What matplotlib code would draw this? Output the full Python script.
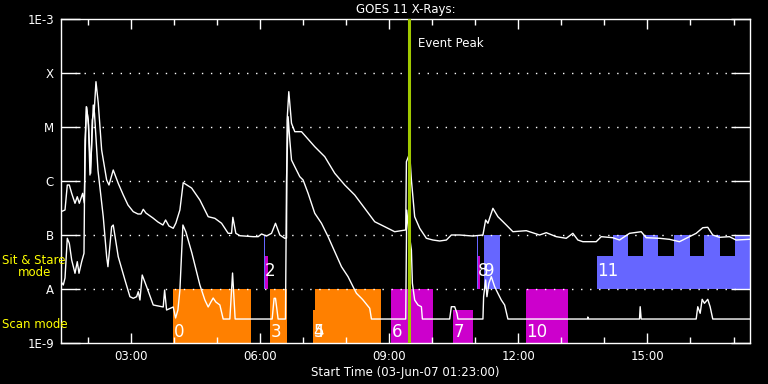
import matplotlib
matplotlib.use("Agg")
import matplotlib.pyplot as plt
from matplotlib.ticker import FixedLocator, FuncFormatter
import numpy as np

# time in hours of 03-Jun-07, flux as log10(W/m^2)
long_t = [1.383, 1.476, 1.529, 1.576, 1.631, 1.708, 1.761, 1.808, 1.886, 1.924,
          1.947, 1.970, 2.016, 2.072, 2.109, 2.156, 2.195, 2.248, 2.327, 2.443,
          2.497, 2.596, 2.712, 2.829, 2.938, 3.061, 3.170, 3.239, 3.293, 3.355,
          3.518, 3.634, 3.750, 3.812, 3.889, 3.989, 4.051, 4.144, 4.221, 4.416,
          4.608, 4.801, 4.956, 5.112, 5.265, 5.344, 5.374, 5.443, 5.536, 5.845,
          5.961, 6.040, 6.156, 6.272, 6.364, 6.464, 6.580, 6.620, 6.634, 6.673,
          6.736, 6.812, 6.968, 7.276, 7.508, 7.740, 7.972, 8.204, 8.436, 8.668,
          8.900, 9.132, 9.388, 9.404, 9.480, 9.520, 9.596, 9.713, 9.868, 10.021,
          10.177, 10.332, 10.448, 10.641, 10.949, 11.181, 11.244, 11.297, 11.413, 11.529,
          11.724, 11.877, 12.188, 12.497, 12.652, 12.884, 13.116, 13.269, 13.386, 13.502,
          13.812, 13.928, 14.197, 14.353, 14.585, 14.857, 14.972, 15.281, 15.513, 15.745,
          15.977, 16.133, 16.286, 16.402, 16.518, 16.673, 16.905, 17.060, 17.369]
long_log = [-6.568, -6.537, -6.074, -6.074, -6.228, -6.413, -6.291, -6.413, -6.228, -6.407,
            -5.426, -4.624, -4.870, -5.857, -4.870, -4.685, -4.161, -4.556, -5.426, -5.981,
            -6.074, -5.796, -6.043, -6.259, -6.444, -6.568, -6.611, -6.611, -6.524, -6.593,
            -6.685, -6.759, -6.815, -6.722, -6.833, -6.876, -6.778, -6.537, -6.031, -6.130,
            -6.352, -6.661, -6.691, -6.783, -6.969, -6.969, -6.672, -6.969, -7.013, -7.031,
            -7.031, -6.981, -7.019, -6.969, -6.783, -7.000, -7.061, -7.056, -4.870, -4.346,
            -4.931, -5.087, -5.087, -5.365, -5.550, -5.857, -6.074, -6.259, -6.506, -6.754,
            -6.846, -6.939, -6.907, -5.643, -5.487, -5.981, -6.661, -6.876, -7.061, -7.093,
            -7.111, -7.093, -7.000, -7.000, -7.019, -7.000, -6.722, -6.783, -6.506, -6.661,
            -6.815, -6.939, -6.920, -7.000, -6.957, -7.031, -7.061, -6.969, -7.093, -7.124,
            -7.124, -7.031, -7.050, -7.093, -6.969, -6.939, -7.050, -7.061, -7.080, -7.124,
            -7.031, -6.969, -6.865, -6.857, -7.000, -7.043, -7.031, -7.093, -7.080]

short_t = [1.383, 1.436, 1.476, 1.529, 1.576, 1.631, 1.708, 1.761, 1.801, 1.863,
           1.917, 1.940, 1.979, 2.021, 2.056, 2.091, 2.132, 2.160, 2.241, 2.364,
           2.443, 2.473, 2.559, 2.596, 2.712, 2.868, 2.984, 3.061, 3.139, 3.177,
           3.216, 3.269, 3.371, 3.525, 3.757, 3.789, 3.835, 3.989, 4.044, 4.098,
           4.144, 4.214, 4.283, 4.422, 4.608, 4.724, 4.801, 4.863, 4.917, 4.979,
           5.072, 5.149, 5.304, 5.367, 5.427, 6.286, 6.332, 6.364, 6.425, 6.596,
           6.620, 6.657, 6.696, 6.736, 6.812, 6.928, 7.005, 7.121, 7.276, 7.432,
           7.585, 7.740, 7.896, 8.049, 8.165, 8.244, 8.360, 8.397, 8.552, 8.592,
           9.388, 9.411, 9.457, 9.520, 9.543, 9.596, 9.673, 9.752, 9.775, 10.409,
           10.448, 10.525, 10.578, 10.601, 11.181, 11.197, 11.244, 11.274, 11.320, 11.376,
           11.453, 11.529, 11.608, 11.685, 11.761, 13.610, 13.617, 13.634, 14.817, 14.833,
           14.856, 16.133, 16.170, 16.226, 16.272, 16.325, 16.402, 16.457, 16.518, 17.369]
short_log = [-7.865, -7.926, -7.796, -7.061, -7.154, -7.463, -7.709, -7.494, -7.709, -7.494,
             -7.339, -5.241, -4.630, -4.963, -5.889, -5.426, -4.593, -4.741, -5.796, -6.661,
             -7.402, -7.587, -6.846, -6.815, -7.402, -7.833, -8.143, -8.172, -8.143, -8.050,
             -8.204, -7.741, -7.957, -8.296, -8.333, -8.019, -8.389, -8.333, -8.537, -8.389,
             -8.019, -6.815, -6.944, -7.333, -7.926, -8.204, -8.333, -8.241, -8.167, -8.241,
             -8.296, -8.556, -8.556, -7.704, -8.556, -8.556, -8.172, -8.172, -8.556, -8.556,
             -5.981, -4.809, -5.241, -5.611, -5.735, -5.920, -5.981, -6.228, -6.598, -6.783,
             -7.031, -7.309, -7.587, -7.772, -7.957, -8.080, -8.172, -8.204, -8.357, -8.556,
             -8.556, -6.537, -6.907, -7.278, -7.894, -8.204, -8.296, -8.328, -8.556, -8.556,
             -8.328, -8.328, -8.450, -8.556, -8.556, -8.143, -7.833, -8.143, -7.894, -7.772,
             -7.957, -8.080, -8.204, -8.296, -8.556, -8.556, -8.519, -8.556, -8.556, -8.328,
             -8.556, -8.556, -8.328, -8.450, -8.191, -8.265, -8.191, -8.328, -8.556, -8.556]

# observation boxes: start, end, bottom log, top log
scan_boxes = [(3.98, 5.79, -9, -8), (6.23, 6.627, -9, -8),
              (7.23, 8.807, -9, -8.389), (7.276, 8.807, -9, -8)]
scan_labels = [("0", 3.98), ("3", 6.23), ("4", 7.23), ("5", 7.23)]
magenta_boxes = [(9.056, 10.03, -9, -8), (10.478, 10.942, -9, -8.389),
                 (12.172, 13.146, -9, -8), (6.116, 6.186, -8, -7.389),
                 (11.058, 11.121, -8, -7.389)]
magenta_labels = [("6", 9.056), ("7", 10.478), ("10", 12.172)]
stare_boxes = [(6.10, 6.125, -8, -7), (11.035, 11.074, -8, -7), (11.197, 11.568, -8, -7),
               (13.82, 17.383, -8, -7.389), (14.19, 14.55, -8, -7), (14.89, 15.25, -8, -7),
               (15.61, 15.98, -8, -7), (16.31, 16.68, -8, -7), (17.03, 17.383, -8, -7)]
stare_labels = [("2", 6.10), ("8", 11.035), ("9", 11.18), ("11", 13.82)]

event_peak = 9.469
t_start, t_end = 1.383, 17.383
class_levels = [1e-8, 1e-7, 1e-6, 1e-5, 1e-4]
ylabels = ["1E-9", "A", "B", "C", "M", "X", "1E-3"]

fig = plt.figure(figsize=(7.68, 3.84), dpi=100, facecolor="black")
ax = fig.add_axes([61/768, 41/384, 689/768, 324/384], facecolor="black")

ORANGE, MAGENTA, BLUE = "#ff8000", "#cc00cc", "#6666ff"
for color, boxes in [(ORANGE, scan_boxes), (MAGENTA, magenta_boxes), (BLUE, stare_boxes)]:
    for t0, t1, lo, hi in boxes:
        ax.fill_between([t0, t1], 10**lo, 10**hi, color=color, lw=0, zorder=1)

for lab, t0 in scan_labels + magenta_labels:
    ax.text(t0 + 0.02, 10**-8.8, lab, color="white", fontsize=12, va="center", ha="left", zorder=3)
for lab, t0 in stare_labels:
    ax.text(t0 + 0.02, 10**-7.67, lab, color="white", fontsize=12, va="center", ha="left", zorder=3)

for lev in class_levels:
    ax.plot([t_start + 0.33, t_end - 0.33], [lev, lev], color="white", lw=1,
            linestyle=(0, (1, 5.5)), zorder=2)

ax.plot(long_t, 10**np.array(long_log), color="white", lw=1, zorder=4)
ax.plot(short_t, 10**np.array(short_log), color="white", lw=1, zorder=4)

ax.axvline(event_peak, color="#a0c800", lw=2.2, zorder=5)
ax.text(event_peak + 0.2, 10**-3.45, "Event Peak", color="white", fontsize=8.5, va="center")

ax.set_yscale("log")
ax.set_ylim(1e-9, 1e-3)
ax.set_xlim(t_start, t_end)
ax.yaxis.set_major_locator(FixedLocator([10.0**k for k in range(-9, -2)]))
ax.yaxis.set_minor_locator(FixedLocator([]))
ax.set_yticklabels(ylabels)
ax.xaxis.set_major_locator(FixedLocator([3, 6, 9, 12, 15]))
ax.xaxis.set_minor_locator(FixedLocator(range(2, 18)))
ax.xaxis.set_major_formatter(FuncFormatter(lambda v, p: "%02d:00" % int(v)))

ax.tick_params(axis="y", which="major", direction="in", length=14, width=1, colors="white",
               labelsize=8.5, left=True, right=True, pad=5)
ax.tick_params(axis="x", which="major", direction="in", length=7, width=1, colors="white",
               labelsize=8.5, top=True, bottom=True, pad=5)
ax.tick_params(axis="x", which="minor", direction="in", length=4, width=1, colors="white",
               top=True, bottom=True)
for sp in ax.spines.values():
    sp.set_color("white")
    sp.set_linewidth(1)

ax.set_title("GOES 11 X-Rays:", color="white", fontsize=8.5, pad=4)
ax.set_xlabel("Start Time (03-Jun-07 01:23:00)", color="white", fontsize=8.5, labelpad=2)

fig.text(2/768, 1 - 260/384, "Sit & Stare", color="yellow", fontsize=8.5, va="center", ha="left")
fig.text(35/768, 1 - 273/384, "mode", color="yellow", fontsize=8.5, va="center", ha="center")
fig.text(2/768, 1 - 324/384, "Scan mode", color="yellow", fontsize=8.5, va="center", ha="left")

plt.savefig("out.png", dpi=100, facecolor="black")
